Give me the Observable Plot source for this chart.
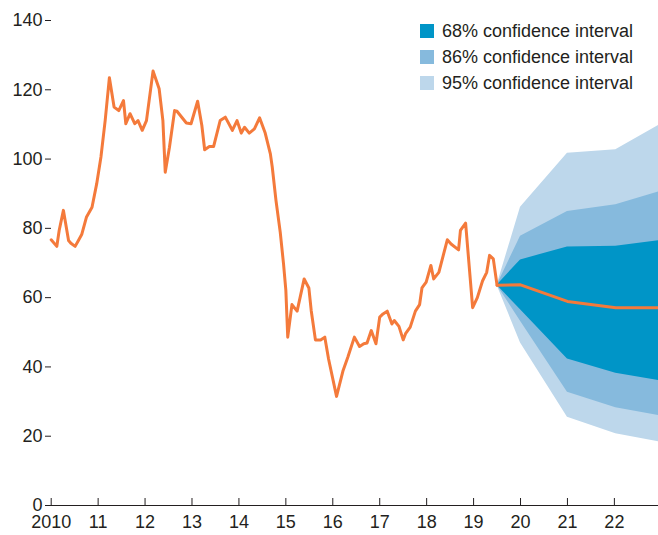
<!DOCTYPE html>
<html><head><meta charset="utf-8">
<script src="https://cdn.jsdelivr.net/npm/d3@7"></script>
<script src="https://cdn.jsdelivr.net/npm/@observablehq/plot@0.6"></script>
<style>
body{margin:0;background:#fff;}
#wrap{position:relative;width:658px;height:535px;}
.lg{position:absolute;left:420px;font-family:"Liberation Sans",Arial,sans-serif;font-size:18px;color:#231f20;display:flex;align-items:center;white-space:nowrap;line-height:1}
.sw{width:14px;height:14px;margin-right:8px;flex:none}
</style></head><body><div id="wrap"></div>
<script>
// Historical series (decimal years, index values)
const histYears = [2010.00,2010.12,2010.17,2010.26,2010.37,2010.42,2010.51,2010.58,2010.65,2010.75,2010.87,2010.97,
2011.06,2011.15,2011.24,2011.34,2011.44,2011.54,2011.59,2011.68,2011.78,2011.85,2011.94,
2012.03,2012.17,2012.30,2012.38,2012.43,2012.52,2012.63,2012.68,2012.88,2012.98,
2013.12,2013.21,2013.27,2013.37,2013.46,2013.60,2013.71,2013.86,2013.96,
2014.05,2014.12,2014.22,2014.33,2014.44,2014.56,2014.67,2014.71,2014.79,2014.88,2014.95,
2015.00,2015.04,2015.13,2015.24,2015.39,2015.49,2015.54,2015.63,2015.74,2015.83,2015.91,
2016.08,2016.22,2016.32,2016.46,2016.57,2016.66,2016.73,2016.82,2016.92,
2017.00,2017.07,2017.16,2017.26,2017.31,2017.41,2017.50,2017.55,2017.65,2017.76,2017.85,2017.90,2017.99,
2018.09,2018.15,2018.26,2018.44,2018.52,2018.68,2018.72,2018.83,2018.98,
2019.08,2019.19,2019.28,2019.34,2019.42,2019.50];
const histValues = [76.7,74.8,79.4,85.2,76.5,75.7,74.8,76.5,78.2,83.2,86.1,92.9,
100.6,111.1,123.5,115.0,114.0,116.9,110.2,113.1,110.2,111.1,108.3,
111.1,125.4,120.3,111.1,96.2,103.4,114.0,113.8,110.4,110.2,
116.7,109.7,102.7,103.6,103.6,111.1,112.1,108.3,111.1,
107.5,109.2,107.5,108.7,111.9,107.5,101.5,97.7,88.0,78.9,69.8,
62.1,48.6,58.0,56.1,65.4,62.8,56.3,47.8,47.8,48.6,42.3,
31.5,39.0,42.8,48.6,45.9,46.7,46.9,50.5,46.7,
54.4,55.3,56.1,52.4,53.4,51.7,47.8,49.6,51.5,56.1,58.0,62.8,64.5,
69.3,65.4,67.3,76.7,75.5,73.8,79.4,81.5,57.1,
60.0,64.8,67.3,72.2,71.2,63.6];

// Forecast fan
const fcYears  = [2019.50, 2020.00, 2021.00, 2022.03, 2022.94];
const fcMedian = [63.6, 63.7, 58.9, 57.1, 57.1];
const fcLo68   = [63.6, 56.5, 42.3, 38.2, 36.1];
const fcHi68   = [63.6, 70.9, 74.6, 74.8, 76.4];
const fcLo86   = [63.6, 53.2, 32.7, 28.2, 26.0];
const fcHi86   = [63.6, 77.7, 84.9, 86.8, 90.5];
const fcLo95   = [63.6, 46.9, 25.5, 20.7, 18.4];
const fcHi95   = [63.6, 86.1, 101.7, 102.7, 109.7];

const legendLabels = ["68% confidence interval", "86% confidence interval", "95% confidence interval"];
const bandColors = ["#0095c7", "#86badd", "#bdd7eb"];
const lineColor = "#f47a3b";
const xTicks = [2010, 2011, 2012, 2013, 2014, 2015, 2016, 2017, 2018, 2019, 2020, 2021, 2022];
const yTicks = [0, 20, 40, 60, 80, 100, 120, 140];

const hist = histYears.map((x, i) => ({x, y: histValues[i]}));
const fc = fcYears.map((x, i) => ({x, med: fcMedian[i], lo68: fcLo68[i], hi68: fcHi68[i],
  lo86: fcLo86[i], hi86: fcHi86[i], lo95: fcLo95[i], hi95: fcHi95[i]}));

const font = '"Liberation Sans",Arial,sans-serif';
const chart = Plot.plot({
  width: 658, height: 535,
  marginLeft: 46, marginRight: 0, marginTop: 20, marginBottom: 30,
  x: {domain: [2009.9, 2022.94]},
  y: {domain: [0, 140]},
  style: {fontFamily: font, fontSize: "18px", color: "#231f20", background: "white", overflow: "visible"},
  marks: [
    Plot.areaY(fc, {x: "x", y1: "lo95", y2: "hi95", fill: bandColors[2], curve: "linear"}),
    Plot.areaY(fc, {x: "x", y1: "lo86", y2: "hi86", fill: bandColors[1], curve: "linear"}),
    Plot.areaY(fc, {x: "x", y1: "lo68", y2: "hi68", fill: bandColors[0], curve: "linear"}),
    Plot.ruleY([0], {stroke: "#231f20", strokeWidth: 1}),
    Plot.axisY({ticks: yTicks, tickSize: 6, tickPadding: 3, dx: 5, label: null}),
    Plot.axisX({ticks: xTicks, tickSize: -7, tickPadding: 17, label: null,
      tickFormat: d => d === 2010 ? "2010" : String(d).slice(2)}),
    Plot.line(hist, {x: "x", y: "y", stroke: lineColor, strokeWidth: 3, strokeLinejoin: "round"}),
    Plot.line(fc, {x: "x", y: "med", stroke: lineColor, strokeWidth: 3, strokeLinejoin: "round"})
  ]
});
const wrap = document.getElementById("wrap");
wrap.appendChild(chart);
const tops = [24, 50, 76];
legendLabels.forEach((t, i) => {
  const d = document.createElement("div");
  d.className = "lg";
  d.style.top = (tops[i] - 3) + "px";
  d.style.height = "20px";
  d.innerHTML = `<span class="sw" style="background:${bandColors[i]}"></span><span>${t}</span>`;
  wrap.appendChild(d);
});
</script>
</body></html>
